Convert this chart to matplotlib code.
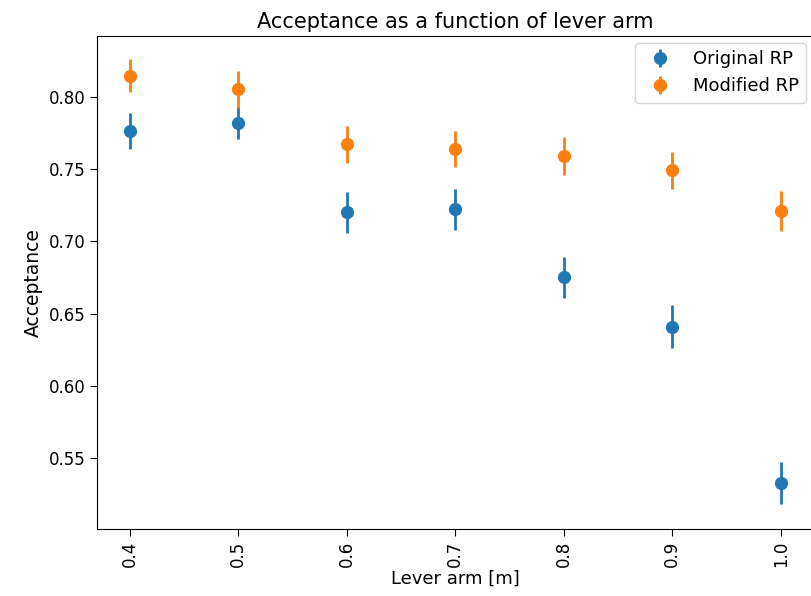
import matplotlib
matplotlib.use("Agg")
import matplotlib.pyplot as plt

# lever arm positions [m]
lever_arm = [0.4, 0.5, 0.6, 0.7, 0.8, 0.9, 1.0]

# acceptance
acc_original = [0.776, 0.782, 0.720, 0.722, 0.675, 0.641, 0.533]
err_original = [0.0125, 0.0115, 0.014, 0.014, 0.014, 0.015, 0.0145]
acc_modified = [0.8145, 0.805, 0.767, 0.764, 0.759, 0.749, 0.721]
err_modified = [0.0115, 0.0125, 0.0125, 0.0125, 0.013, 0.013, 0.014]

fig = plt.figure(figsize=(8.12, 5.96), dpi=100)
ax = fig.add_axes([0.1195, 0.1124, 0.882, 0.8272])

ax.errorbar(lever_arm, acc_original, yerr=err_original, fmt="o",
            markersize=8.5, elinewidth=2, label="Original RP")
ax.errorbar(lever_arm, acc_modified, yerr=err_modified, fmt="o",
            markersize=8.5, elinewidth=2, label="Modified RP")

ax.set_xlim(0.37, 1.03)
ax.set_ylim(0.501, 0.842)
ax.set_xticks(lever_arm)
ax.set_xticklabels([str(x) for x in lever_arm], rotation=90)
ax.set_yticks([0.55, 0.60, 0.65, 0.70, 0.75, 0.80])
ax.tick_params(labelsize=12, length=5)

ax.set_title("Acceptance as a function of lever arm", fontsize=15, pad=6)
ax.set_xlabel("Lever arm [m]", fontsize=13, labelpad=2)
ax.set_ylabel("Acceptance", fontsize=13.5)
ax.legend(loc="upper right", fontsize=13, borderaxespad=0.4)

fig.savefig("out.png", dpi=100)
